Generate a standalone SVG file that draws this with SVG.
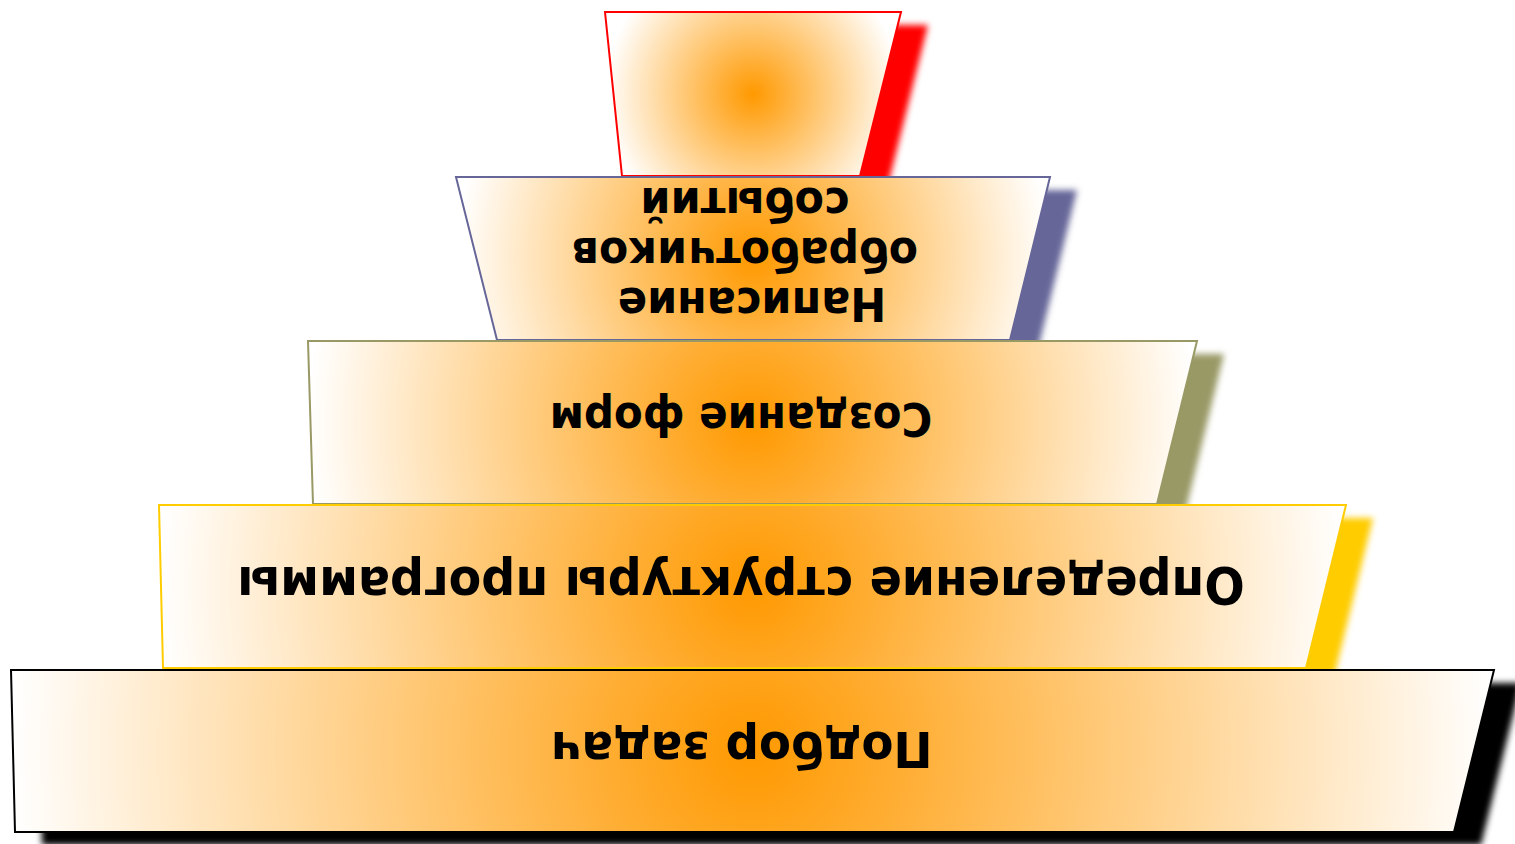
<svg xmlns="http://www.w3.org/2000/svg" width="1515" height="844" viewBox="0 0 1515 844">
  <defs>
    <filter id="soft" x="-10%" y="-20%" width="120%" height="140%">
      <feGaussianBlur stdDeviation="3"/>
    </filter>
    <radialGradient id="g1" gradientUnits="userSpaceOnUse" cx="753" cy="94" r="148">
      <stop offset="0" stop-color="#FF9900"/><stop offset="1" stop-color="#FFFFFF"/>
    </radialGradient>
    <radialGradient id="g2" gradientUnits="userSpaceOnUse" cx="753" cy="258" r="297">
      <stop offset="0" stop-color="#FF9900"/><stop offset="1" stop-color="#FFFFFF"/>
    </radialGradient>
    <radialGradient id="g3" gradientUnits="userSpaceOnUse" cx="752.5" cy="423" r="445">
      <stop offset="0" stop-color="#FF9900"/><stop offset="1" stop-color="#FFFFFF"/>
    </radialGradient>
    <radialGradient id="g4" gradientUnits="userSpaceOnUse" cx="752.5" cy="587" r="594">
      <stop offset="0" stop-color="#FF9900"/><stop offset="1" stop-color="#FFFFFF"/>
    </radialGradient>
    <radialGradient id="g5" gradientUnits="userSpaceOnUse" cx="752.5" cy="751" r="742">
      <stop offset="0" stop-color="#FF9900"/><stop offset="1" stop-color="#FFFFFF"/>
    </radialGradient>
  </defs>
  <style>
    .shadow { filter: url(#soft); }
    .tier { stroke-width: 2; stroke-linejoin: miter; }
    .label { font-family: "DejaVu Sans", "Liberation Sans", sans-serif; font-weight: bold; font-size: 44px; fill: #000000; text-anchor: middle; }
  </style>

  <!-- top tier -->
  <g id="tier-events">
    <polygon class="shadow" transform="translate(27,13)" points="605,12 901,12 860,176 622,176" fill="#FF0000"/>
    <polygon class="tier" points="605,12 901,12 860,176 622,176" fill="url(#g1)" stroke="#FF0000"/>
  </g>

  <g id="tier-handlers">
    <polygon class="shadow" transform="translate(27,13)" points="456,177 1050,177 1010,340 497,340" fill="#666699"/>
    <polygon class="tier" points="456,177 1050,177 1010,340 497,340" fill="url(#g2)" stroke="#666699"/>
    <text class="label" style="font-size:43px" transform="translate(752,288) rotate(180) scale(1,1.08)">Написание</text>
    <text class="label" style="font-size:42.6px" transform="translate(745,238) rotate(180) scale(1,1.08)">обработчиков</text>
    <text class="label" style="font-size:43px" transform="translate(745,188) rotate(180) scale(1,1.08)">событий</text>
  </g>

  <g id="tier-forms">
    <polygon class="shadow" transform="translate(27,13)" points="308,341 1197,341 1157,504 313,504" fill="#999966"/>
    <polygon class="tier" points="308,341 1197,341 1157,504 313,504" fill="url(#g3)" stroke="#999966"/>
    <text class="label" style="font-size:42px" transform="translate(741,403) rotate(180) scale(1,1.08)">Создание форм</text>
  </g>

  <g id="tier-structure">
    <polygon class="shadow" transform="translate(27,13)" points="159,505 1346,505 1306,668 163,668" fill="#FFCC00"/>
    <polygon class="tier" points="159,505 1346,505 1306,668 163,668" fill="url(#g4)" stroke="#FFCC00"/>
    <text class="label" style="font-size:47.5px" transform="translate(741,567) rotate(180) scale(1,1.08)">Определение структуры программы</text>
  </g>

  <g id="tier-tasks">
    <polygon class="shadow" transform="translate(27,13)" points="11,670 1494,670 1454,832 15,832" fill="#000000"/>
    <polygon class="tier" points="11,670 1494,670 1454,832 15,832" fill="url(#g5)" stroke="#000000"/>
    <text class="label" style="font-size:46.7px" transform="translate(741,732) rotate(180) scale(1,1.08)">Подбор задач</text>
  </g>

  <g id="connectors"/>
</svg>
